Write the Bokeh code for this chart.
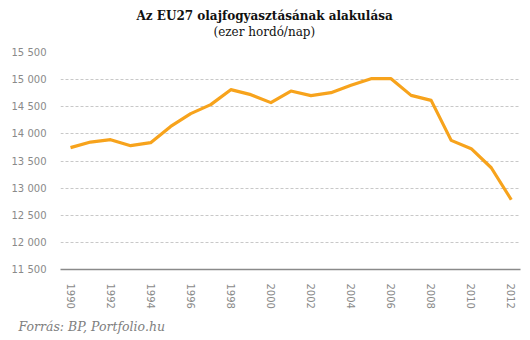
from bokeh.plotting import figure
from bokeh.models import Range1d, FixedTicker, Title
from bokeh.embed import file_html
from bokeh.resources import INLINE

years = list(range(1990, 2013))
consumption = [13746, 13849, 13893, 13782, 13838, 14138, 14373, 14539, 14815, 14723,
               14576, 14790, 14705, 14760, 14895, 15018, 15018, 14710, 14618, 13880,
               13727, 13376, 12786]
y_ticks = [11500, 12000, 12500, 13000, 13500, 14000, 14500, 15000, 15500]
y_tick_labels = ["11 500", "12 000", "12 500", "13 000", "13 500", "14 000", "14 500", "15 000", "15 500"]
x_ticks = list(range(1990, 2013, 2))
x_tick_labels = [str(y) for y in x_ticks]

title_text = "Az EU27 olajfogyasztásának alakulása"
subtitle_text = "(ezer hordó/nap)"
source_text = "Forrás: BP, Portfolio.hu"

p = figure(width=530, height=340, output_backend="svg", toolbar_location=None,
           x_range=Range1d(1989.5, 2012.46), y_range=Range1d(11500, 15500),
           min_border_left=60, min_border_right=10, min_border_top=52, min_border_bottom=71)
p.outline_line_color = None
p.background_fill_color = "white"

p.line(years, consumption, line_color="#F7A31C", line_width=3.2, line_join="round")

p.xaxis.ticker = FixedTicker(ticks=x_ticks)
p.xaxis.major_label_overrides = dict(zip(x_ticks, x_tick_labels))
p.xaxis.major_label_orientation = "vertical"
p.xaxis.axis_line_color = "#8a8a8a"
p.xaxis.axis_line_width = 1.5
p.xaxis.major_tick_line_color = None
p.xaxis.minor_tick_line_color = None
p.xaxis.major_label_standoff = 8
p.xaxis.major_label_text_color = "#8a8a8a"
p.xaxis.major_label_text_font = "DejaVu Sans"
p.xaxis.major_label_text_font_size = "10px"

p.yaxis.ticker = FixedTicker(ticks=y_ticks)
p.yaxis.major_label_overrides = dict(zip(y_ticks, y_tick_labels))
p.yaxis.axis_line_color = None
p.yaxis.major_tick_line_color = None
p.yaxis.minor_tick_line_color = None
p.yaxis.major_label_standoff = 8
p.yaxis.major_label_text_color = "#8a8a8a"
p.yaxis.major_label_text_font = "DejaVu Sans"
p.yaxis.major_label_text_font_size = "10px"

p.xgrid.grid_line_color = None
p.ygrid.grid_line_color = "#c8c8c8"
p.ygrid.grid_line_dash = "3 2"
p.ygrid.grid_line_width = 1

p.add_layout(Title(text=" ", align="left", text_font_size="2px", standoff=9), "above")
p.add_layout(Title(text=subtitle_text, align="left", offset=153, text_font="DejaVu Serif",
                   text_font_style="normal", text_font_size="12px", text_color="#111111",
                   standoff=1), "above")
p.add_layout(Title(text=title_text, align="left", offset=76, text_font="DejaVu Serif",
                   text_font_style="bold", text_font_size="12px", text_color="#111111",
                   standoff=0), "above")
p.add_layout(Title(text=source_text, align="left", offset=-42, text_font="DejaVu Serif",
                   text_font_style="italic", text_font_size="12.5px", text_color="#808080"), "below")

open("out.html", "w").write(file_html(p, INLINE))
